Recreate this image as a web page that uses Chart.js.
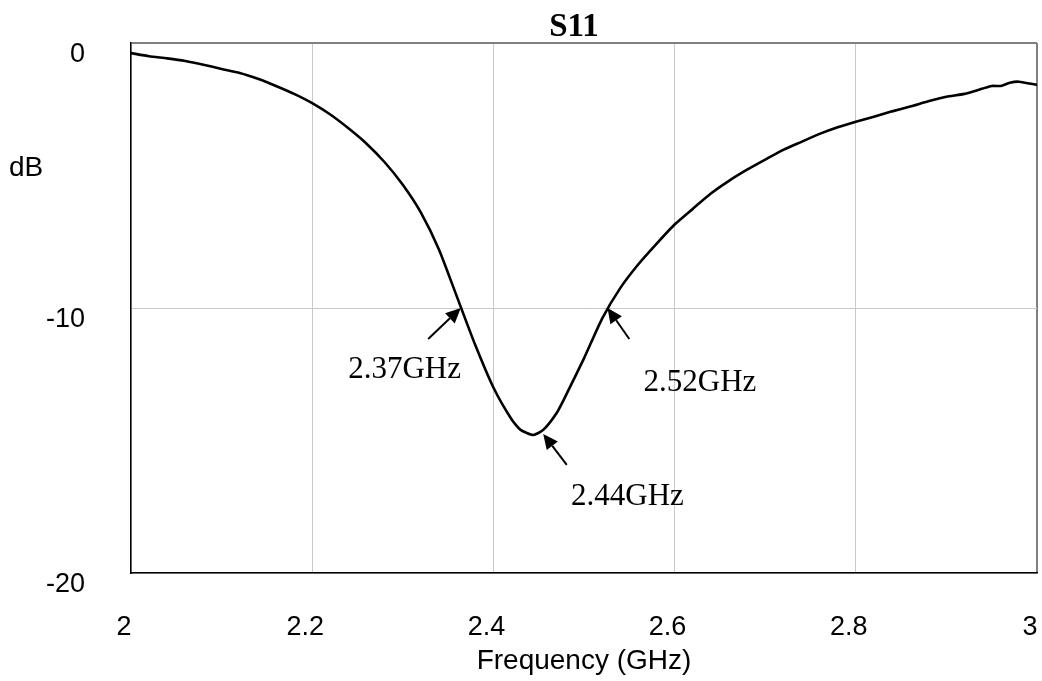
<!DOCTYPE html>
<html>
<head>
<meta charset="utf-8">
<script src="https://cdn.jsdelivr.net/npm/chart.js@4.4.1/dist/chart.umd.min.js"></script>
<style>
  html, body { margin: 0; padding: 0; background: #fff; }
  #wrap { width: 1042px; height: 681px; }
</style>
</head>
<body>
<div id="wrap"><canvas id="s11Chart"></canvas></div>
<script>
// S11 (GHz, dB)
const freqGHz = [2.000, 2.020, 2.040, 2.060, 2.080, 2.100, 2.120, 2.140, 2.160, 2.180,
                 2.200, 2.220, 2.240, 2.260, 2.280, 2.300, 2.320, 2.340, 2.360, 2.380,
                 2.400, 2.420, 2.430, 2.444, 2.455, 2.470, 2.480, 2.500, 2.520, 2.540,
                 2.560, 2.580, 2.600, 2.620, 2.640, 2.660, 2.680, 2.700, 2.720, 2.740,
                 2.760, 2.780, 2.800, 2.820, 2.840, 2.860, 2.880, 2.900, 2.920, 2.940,
                 2.950, 2.960, 2.970, 2.980, 3.000];
const s11dB = [-0.38, -0.50, -0.58, -0.68, -0.82, -0.98, -1.13, -1.35, -1.62, -1.92,
               -2.27, -2.70, -3.22, -3.80, -4.50, -5.35, -6.40, -7.80, -9.60, -11.40,
               -13.00, -14.20, -14.60, -14.79, -14.60, -13.95, -13.30, -11.90, -10.40, -9.25,
               -8.35, -7.58, -6.85, -6.26, -5.68, -5.20, -4.78, -4.40, -4.03, -3.73,
               -3.43, -3.18, -2.97, -2.78, -2.58, -2.40, -2.20, -2.03, -1.92, -1.72,
               -1.62, -1.62, -1.50, -1.46, -1.58];

const xTicks = [2, 2.2, 2.4, 2.6, 2.8, 3];
const yTicks = [0, -10, -20];

// marker annotations: label, arrow tip, arrow tail, label centre (data units)
const markerText = ["2.37GHz", "2.44GHz", "2.52GHz"];
const markerTipF = [2.364, 2.455, 2.526];
const markerTipDb = [-10.0, -14.75, -10.0];
const markerTailF = [2.328, 2.481, 2.550];
const markerTailDb = [-11.17, -15.92, -11.17];
const markerLabelF = [2.302, 2.548, 2.628];
const markerLabelDb = [-12.34, -17.13, -12.83];

const sansFont = "'Liberation Sans', Arial, sans-serif";
const serifFont = "'Liberation Serif', 'Times New Roman', serif";

const points = freqGHz.map((f, i) => ({x: f, y: s11dB[i]}));

// no extra room for edge labels, the plot box is fixed
function noScalePadding(scale) {
    scale.paddingTop = 0;
    scale.paddingBottom = 0;
    scale.paddingLeft = 0;
    scale.paddingRight = 0;
}

// title, horizontal "dB" label and the arrows
const extrasPlugin = {
    id: "extras",
    afterDatasetsDraw(chart) {
        const {ctx, chartArea, scales} = chart;
        const xs = scales.x, ys = scales.y;
        ctx.save();

        ctx.fillStyle = "#000";
        ctx.font = "bold 33px " + serifFont;
        ctx.textAlign = "center";
        ctx.textBaseline = "alphabetic";
        ctx.fillText("S11", (chartArea.left + chartArea.right) / 2 - 10, chartArea.top - 7);

        ctx.font = "28px " + sansFont;
        ctx.textAlign = "left";
        ctx.fillText("dB", 9, 176);

        ctx.strokeStyle = "#000";
        ctx.lineWidth = 2;
        ctx.font = "31px " + serifFont;
        ctx.textAlign = "center";
        ctx.textBaseline = "middle";
        markerText.forEach((txt, i) => {
            const tx = xs.getPixelForValue(markerTipF[i]);
            const ty = ys.getPixelForValue(markerTipDb[i]);
            const sx = xs.getPixelForValue(markerTailF[i]);
            const sy = ys.getPixelForValue(markerTailDb[i]);
            const ang = Math.atan2(ty - sy, tx - sx);
            const headLen = 15, headW = 7;
            const bx = tx - headLen * Math.cos(ang);
            const by = ty - headLen * Math.sin(ang);

            ctx.beginPath();
            ctx.moveTo(sx, sy);
            ctx.lineTo(bx, by);
            ctx.stroke();

            ctx.beginPath();
            ctx.moveTo(tx, ty);
            ctx.lineTo(bx + headW * Math.sin(ang), by - headW * Math.cos(ang));
            ctx.lineTo(bx - headW * Math.sin(ang), by + headW * Math.cos(ang));
            ctx.closePath();
            ctx.fill();

            ctx.fillText(txt, xs.getPixelForValue(markerLabelF[i]), ys.getPixelForValue(markerLabelDb[i]));
        });

        ctx.restore();
    }
};

new Chart(document.getElementById("s11Chart"), {
    type: "line",
    data: {
        datasets: [
            {
                label: "S11",
                data: points,
                borderColor: "#000",
                borderWidth: 2.6,
                pointRadius: 0,
                tension: 0.2,
                fill: false,
            },
        ],
    },
    options: {
        responsive: true,
        maintainAspectRatio: false,
        animation: false,
        layout: {
            padding: {top: 43, right: 5, bottom: 0, left: 0},
        },
        plugins: {
            legend: {display: false},
            tooltip: {enabled: false},
        },
        scales: {
            x: {
                type: "linear",
                min: 2,
                max: 3,
                afterBuildTicks: (scale) => {
                    scale.ticks = xTicks.map((v) => ({value: v}));
                },
                afterFit: (scale) => {
                    scale.height = 108;
                    noScalePadding(scale);
                },
                ticks: {
                    color: "#000",
                    font: {family: sansFont, size: 27},
                    padding: 38,
                    labelOffset: -7,
                    maxRotation: 0,
                    callback: (v) => String(v),
                },
                grid: {
                    drawTicks: false,
                    color: (c) => (c.tick && c.tick.value === 3 ? "#808080" : "#c8c8c8"),
                    lineWidth: (c) => (c.tick && c.tick.value === 3 ? 2 : 1),
                },
                border: {display: true, color: "#000", width: 1.5},
                title: {
                    display: true,
                    text: "Frequency (GHz)",
                    color: "#000",
                    font: {family: sansFont, size: 28},
                    padding: {top: 0, bottom: 3},
                },
            },
            y: {
                type: "linear",
                min: -20,
                max: 0,
                afterBuildTicks: (scale) => {
                    scale.ticks = yTicks.map((v) => ({value: v}));
                },
                afterFit: (scale) => {
                    scale.width = 131;
                    noScalePadding(scale);
                },
                ticks: {
                    color: "#000",
                    font: {family: sansFont, size: 27},
                    padding: 46,
                    labelOffset: 12,
                },
                grid: {
                    drawTicks: false,
                    color: (c) => (c.tick && c.tick.value === 0 ? "#808080" : "#c8c8c8"),
                    lineWidth: (c) => (c.tick && c.tick.value === 0 ? 2 : 1),
                },
                border: {display: true, color: "#000", width: 1.5},
            },
        },
    },
    plugins: [extrasPlugin],
});
</script>
</body>
</html>
